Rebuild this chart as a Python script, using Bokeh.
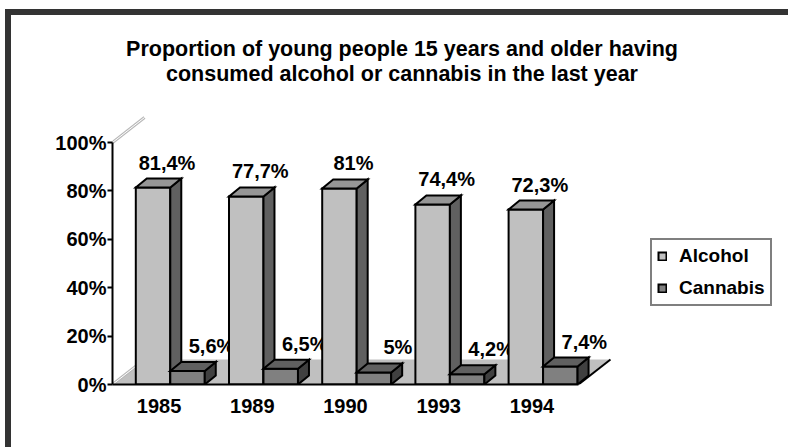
from bokeh.plotting import figure
from bokeh.models import (FixedTicker, PrintfTickFormatter, Legend, LegendItem, Range1d)
from bokeh.embed import file_html
from bokeh.resources import INLINE
from bokeh.core.properties import value

# ---------------- data ----------------
years = ["1985", "1989", "1990", "1993", "1994"]
alcohol = [81.4, 77.7, 81.0, 74.4, 72.3]
cannabis = [5.6, 6.5, 5.0, 4.2, 7.4]
y_ticks = [0, 20, 40, 60, 80, 100]
series_names = ["Alcohol", "Cannabis"]
title_lines = ["Proportion of young people 15 years and older having",
               "consumed alcohol or cannabis in the last year"]

# ---------------- layout constants (pixels) ----------------
W, H = 788, 447
FL, FR, FT, FB = 112, 788, 9, 384
PX_CAT = 93.2
PX_PCT = 2.42
FONT = value("Liberation Sans")


def dx(px):
    return (px - FL) / PX_CAT


def dy(py):
    return (FB - py) / PX_PCT


p = figure(width=W, height=H, x_range=Range1d(0, dx(FR)), y_range=Range1d(0, dy(FT)),
           output_backend="svg", toolbar_location=None, title_location=None,
           min_border_left=FL, min_border_right=0, min_border_top=FT,
           min_border_bottom=H - FB)
# transparent canvas; the page element carries the dark frame border of the chart
p.background_fill_alpha = 0
p.border_fill_alpha = 0
p.outline_line_color = None
p.grid.visible = False
p.styles = {
    "background": ("linear-gradient(#333333, #333333) 5px 9px / 6px 450px no-repeat, "
                   "linear-gradient(#333333, #333333) 5px 9px / 790px 6px no-repeat, "
                   "#ffffff"),
}

# ---------------- floor and walls ----------------
n = len(years)
FDX, FDY = 32 / PX_CAT, 25 / PX_PCT
p.patch([0, n, n + FDX, FDX], [0, 0, FDY, FDY], fill_color="#c0c0c0", line_alpha=0)
p.line([n, n + FDX], [0, FDY], line_color="black", line_width=2)
for (xa, ya, xb, yb) in [(0, 0, FDX, FDY), (0, 100, FDX, 100 + FDY)]:
    p.line([xa, xb], [ya, yb], line_color="#b8b8b8", line_width=3)
    p.line([xa, xb], [ya, yb], line_color="white", line_width=1)

# ---------------- title ----------------
p.text(x=[dx(401.5)] * 2, y=[dy(48), dy(73)], text=title_lines, text_align="center",
       text_baseline="middle", text_font=FONT, text_font_style="bold",
       text_font_size="21.5px", text_color="black")

# ---------------- bars ----------------
BW = 0.37
OFF = {"Alcohol": 0.25, "Cannabis": 0.62}
BDX, BDY = 11 / PX_CAT, 9 / PX_PCT
colors = {"Alcohol": ("#c0c0c0", "#969696", "#606060"),
          "Cannabis": ("#808080", "#606060", "#404040")}
label_dx = {"Alcohol": 14, "Cannabis": 24}


def fmt(v):
    return ("%g" % v).replace(".", ",") + "%"


# labels first (they are partly hidden behind later bars, as in the reference)
for name, vals in zip(series_names, [alcohol, cannabis]):
    centers = [i + OFF[name] + BW / 2 for i in range(n)]
    p.text(x=centers, y=vals, text=[fmt(v) for v in vals], x_offset=label_dx[name],
           y_offset=-25, text_align="center", text_baseline="middle", text_font=FONT,
           text_font_style="bold", text_font_size="20px", text_color="black")

front_renderers = {}
for name, vals in zip(series_names, [alcohol, cannabis]):
    front, top, side = colors[name]
    lefts = [i + OFF[name] for i in range(n)]
    rights = [l + BW for l in lefts]
    r = p.vbar(x=[l + BW / 2 for l in lefts], width=BW, top=vals, bottom=0,
               fill_color=front, line_color="black", line_width=2, line_join="miter")
    front_renderers[name] = r
    side_xs = [[rr, rr + BDX, rr + BDX, rr] for rr in rights]
    side_ys = [[0, BDY, v + BDY, v] for v in vals]
    p.patches(side_xs, side_ys, fill_color=side, line_color="black", line_width=2,
              line_join="miter")
    top_xs = [[l, rr, rr + BDX, l + BDX] for l, rr in zip(lefts, rights)]
    top_ys = [[v, v, v + BDY, v + BDY] for v in vals]
    p.patches(top_xs, top_ys, fill_color=top, line_color="black", line_width=2,
              line_join="miter")

# ---------------- axes ----------------
yax = p.yaxis[0]
yax.ticker = FixedTicker(ticks=y_ticks)
yax.formatter = PrintfTickFormatter(format="%d%%")
yax.bounds = (0, 100)
yax.axis_line_width = 2
yax.axis_line_color = "black"
yax.major_tick_line_width = 2
yax.major_tick_out = 5
yax.major_tick_in = 0
yax.minor_tick_line_color = None
yax.major_label_standoff = 1
yax.major_label_text_font = "Liberation Sans"
yax.major_label_text_font_style = "bold"
yax.major_label_text_font_size = "20px"
yax.major_label_text_color = "black"

xax = p.xaxis[0]
xax.ticker = FixedTicker(ticks=[i + 0.5 for i in range(n)])
xax.major_label_overrides = {i + 0.5: y for i, y in enumerate(years)}
xax.bounds = (0, n)
xax.axis_line_width = 2
xax.axis_line_color = "black"
xax.major_tick_line_color = None
xax.minor_tick_line_color = None
xax.major_label_standoff = 8
xax.major_label_text_font = "Liberation Sans"
xax.major_label_text_font_style = "bold"
xax.major_label_text_font_size = "20px"
xax.major_label_text_color = "black"

# ---------------- legend ----------------
legend = Legend(items=[LegendItem(label=nm, renderers=[front_renderers[nm]])
                       for nm in series_names],
                location=(650 - FL, FB - 306), glyph_width=10, glyph_height=10,
                padding=5, spacing=10, label_standoff=12, margin=0,
                border_line_color="black", border_line_width=2,
                background_fill_color="white", background_fill_alpha=1,
                label_text_font="Liberation Sans", label_text_font_style="bold",
                label_text_font_size="19px", label_text_color="black",
                label_height=20)
p.add_layout(legend)

open("out.html", "w").write(file_html(p, INLINE))
